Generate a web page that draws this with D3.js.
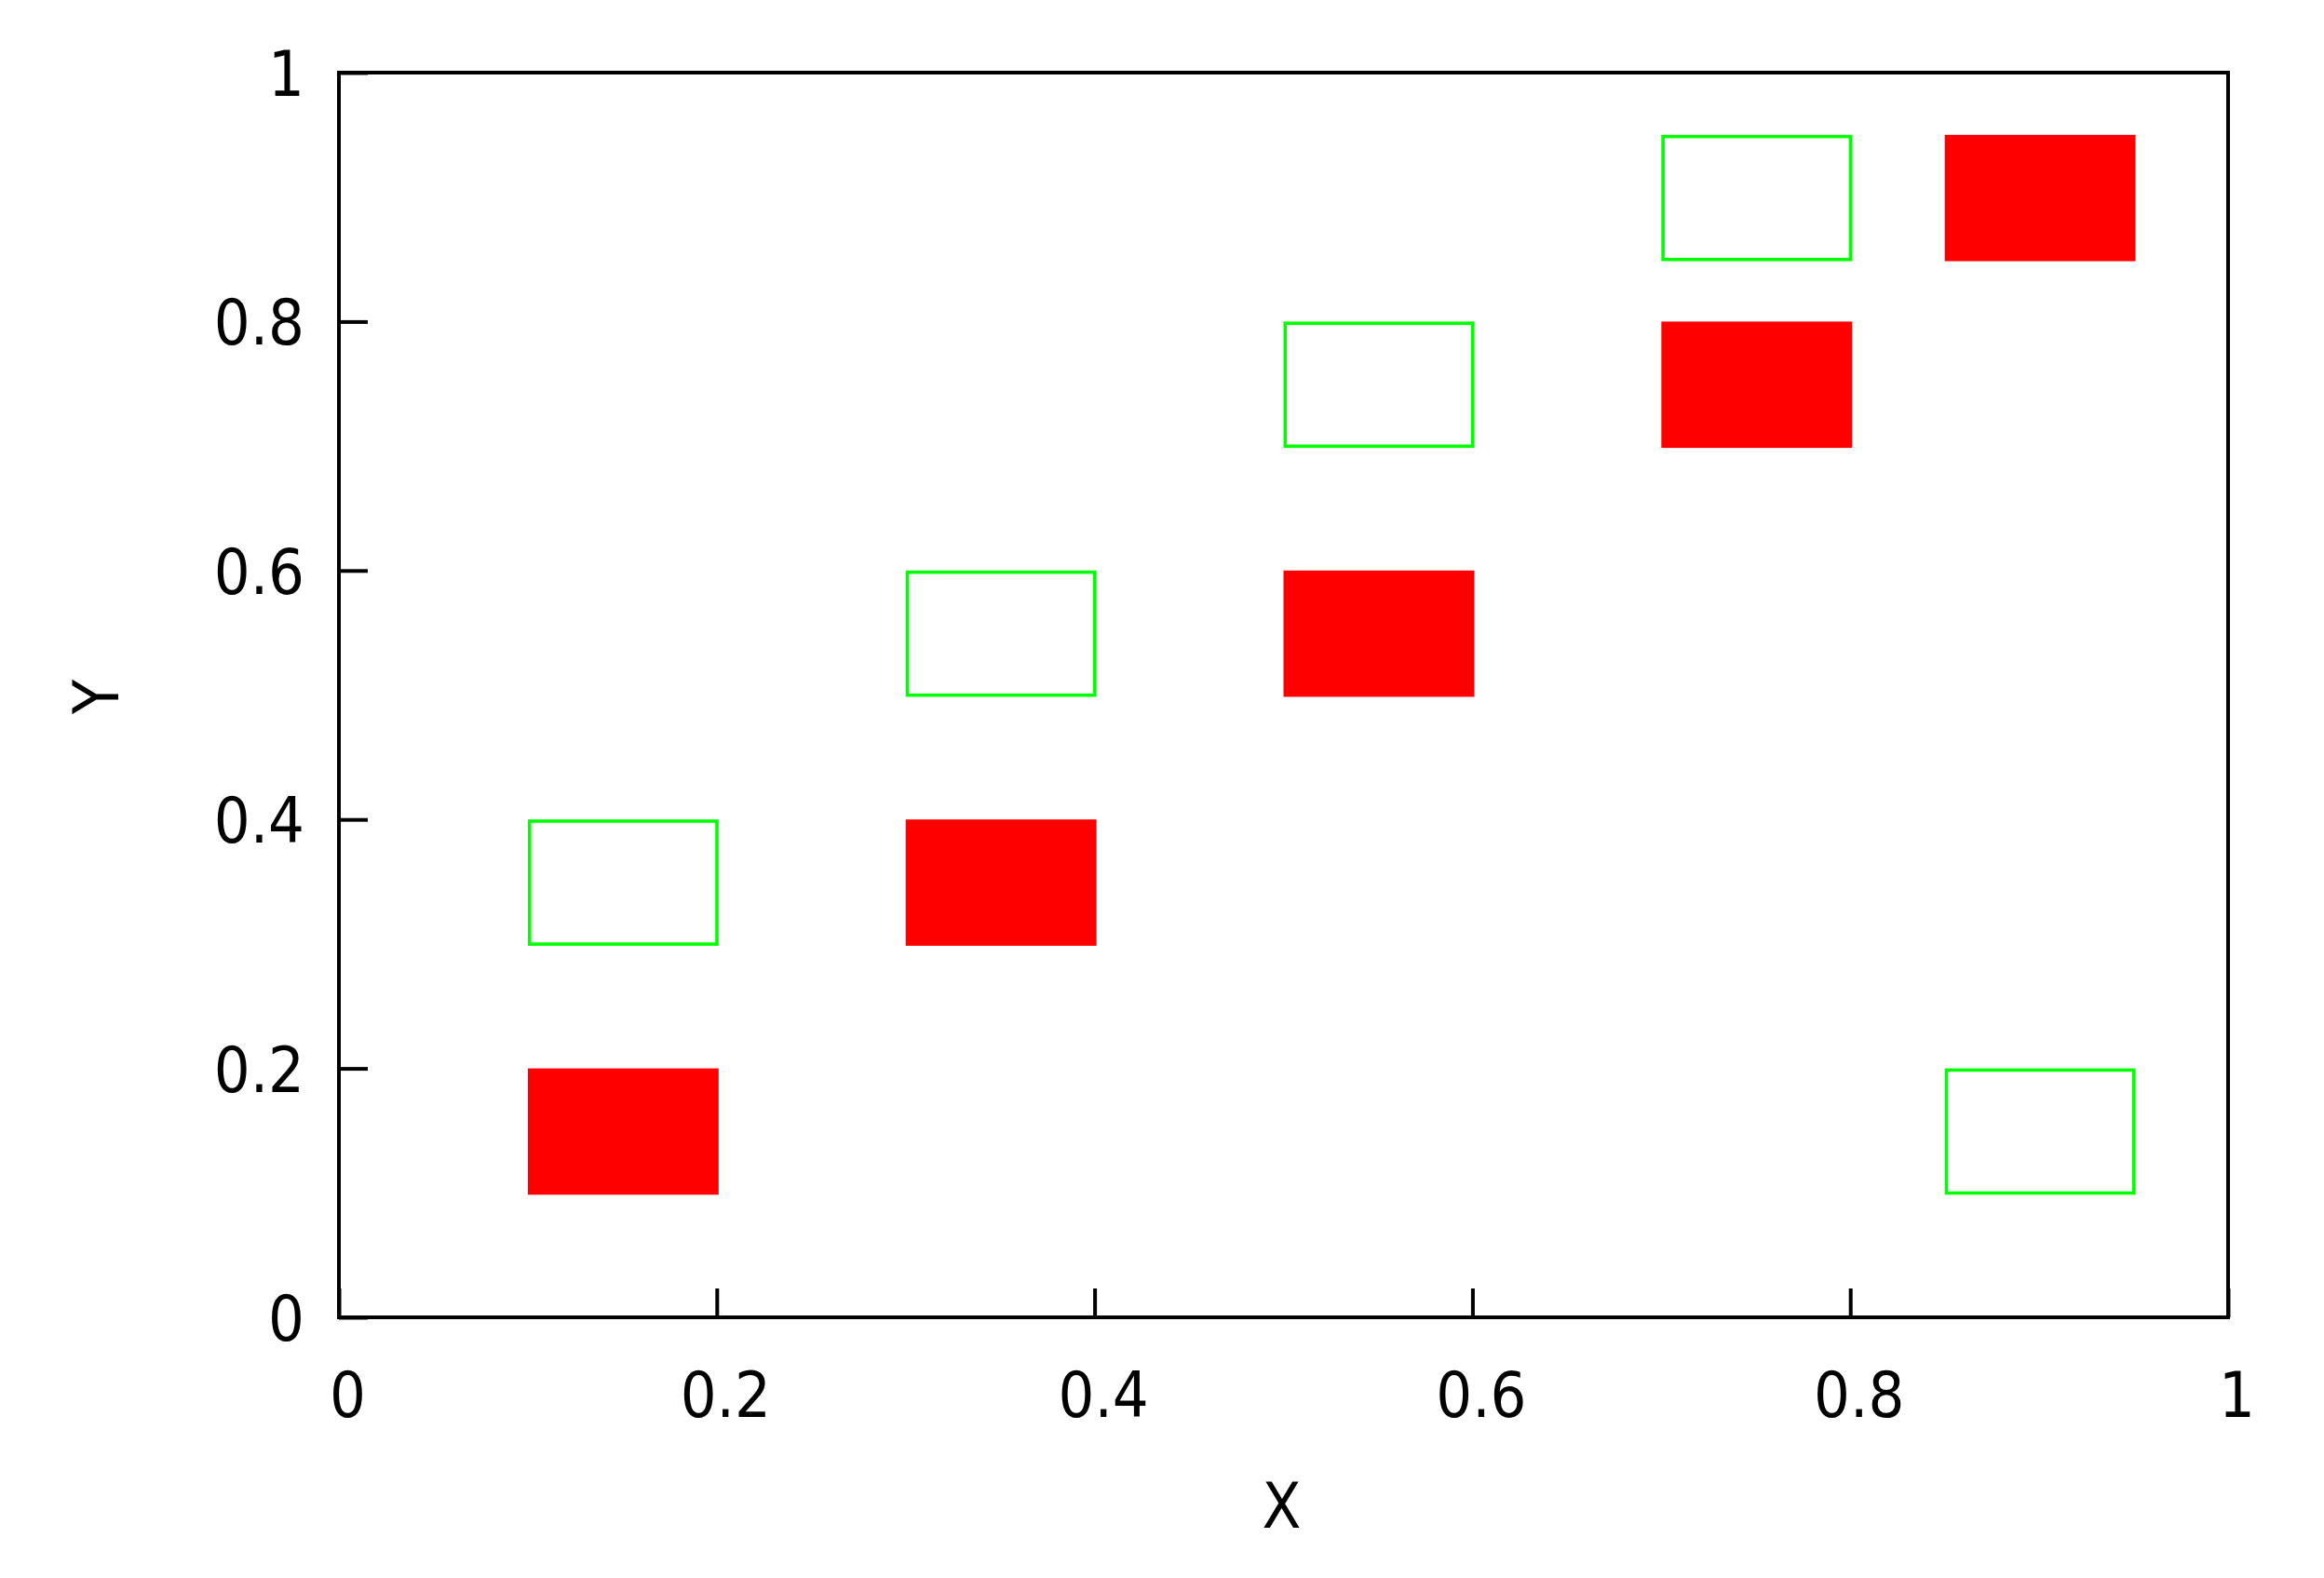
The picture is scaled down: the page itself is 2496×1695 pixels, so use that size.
<!DOCTYPE html>
<html>
<head>
<meta charset="utf-8">
<script src="https://cdn.jsdelivr.net/npm/d3@7"></script>
<style>
  html, body { margin: 0; padding: 0; background: #fff; }
  svg { display: block; }
</style>
</head>
<body>
<div id="chart"></div>
<script>
// Red filled boxes
const redX0 = [0.1, 0.3, 0.5, 0.7, 0.85]
const redX1 = [0.2, 0.4, 0.6, 0.8, 0.95]
const redY0 = [0.1, 0.3, 0.5, 0.7, 0.85]
const redY1 = [0.2, 0.4, 0.6, 0.8, 0.95]

// Green outlined boxes
const greenX0 = [0.1, 0.3, 0.5, 0.7, 0.85]
const greenX1 = [0.2, 0.4, 0.6, 0.8, 0.95]
const greenY0 = [0.3, 0.5, 0.7, 0.85, 0.1]
const greenY1 = [0.4, 0.6, 0.8, 0.95, 0.2]

// Ticks
const xTicks = [0, 0.2, 0.4, 0.6, 0.8, 1]
const xTickLabels = ['0', '0.2', '0.4', '0.6', '0.8', '1']
const yTicks = [0, 0.2, 0.4, 0.6, 0.8, 1]
const yTickLabels = ['0', '0.2', '0.4', '0.6', '0.8', '1']

const width = 2496
const height = 1695
const margin = { top: 78, right: 103, bottom: 280, left: 364 }
const font = '"DejaVu Sans Condensed", "DejaVu Sans", sans-serif'
const fontSize = 68
const lineW = 4

const svg = d3.select('#chart')
  .append('svg')
  .attr('width', width)
  .attr('height', height)

svg.append('rect')
  .attr('width', width)
  .attr('height', height)
  .attr('fill', '#fff')

const x = d3.scaleLinear()
  .domain([0, 1])
  .range([margin.left, width - margin.right])

const y = d3.scaleLinear()
  .domain([0, 1])
  .range([height - margin.bottom, margin.top])

const red = redX0.map((d, i) => ({ x0: d, x1: redX1[i], y0: redY0[i], y1: redY1[i] }))
const green = greenX0.map((d, i) => ({ x0: d, x1: greenX1[i], y0: greenY0[i], y1: greenY1[i] }))

// Filled rectangles
svg.append('g')
  .selectAll('rect')
  .data(red)
  .join('rect')
  .attr('x', d => x(d.x0))
  .attr('y', d => y(d.y1))
  .attr('width', d => x(d.x1) - x(d.x0) + 2)
  .attr('height', d => y(d.y0) - y(d.y1) + 2)
  .attr('fill', '#ff0000')

// Outlined rectangles (stroke drawn inside the box)
const sw = 3.6
svg.append('g')
  .selectAll('rect')
  .data(green)
  .join('rect')
  .attr('x', d => x(d.x0) + sw / 2)
  .attr('y', d => y(d.y1) + sw / 2)
  .attr('width', d => x(d.x1) - x(d.x0) - sw + 2)
  .attr('height', d => y(d.y0) - y(d.y1) - sw + 2)
  .attr('fill', 'none')
  .attr('stroke', '#00ff00')
  .attr('stroke-width', sw)

// Axes with inward ticks
const xAxis = svg.append('g')
  .attr('transform', `translate(0,${height - margin.bottom})`)
  .call(d3.axisBottom(x)
    .tickValues(xTicks)
    .tickFormat((d, i) => xTickLabels[i])
    .tickSizeInner(-31)
    .tickSizeOuter(0))

xAxis.select('.domain').remove()
xAxis.selectAll('line')
  .attr('stroke', '#000')
  .attr('stroke-width', lineW)
xAxis.selectAll('text')
  .attr('y', 107)
  .attr('dy', 0)
  .attr('dx', 9)
  .attr('fill', '#000')
  .attr('font-family', font)
  .attr('font-size', fontSize)

const yAxis = svg.append('g')
  .attr('transform', `translate(${margin.left},0)`)
  .call(d3.axisLeft(y)
    .tickValues(yTicks)
    .tickFormat((d, i) => yTickLabels[i])
    .tickSizeInner(-31)
    .tickSizeOuter(0))

yAxis.select('.domain').remove()
yAxis.selectAll('line')
  .attr('stroke', '#000')
  .attr('stroke-width', lineW)
yAxis.selectAll('text')
  .attr('x', -37)
  .attr('dy', '0.36em')
  .attr('fill', '#000')
  .attr('font-family', font)
  .attr('font-size', fontSize)

// Plot border
svg.append('rect')
  .attr('x', x(0))
  .attr('y', y(1))
  .attr('width', x(1) - x(0))
  .attr('height', y(0) - y(1))
  .attr('fill', 'none')
  .attr('stroke', '#000')
  .attr('stroke-width', lineW)

// Axis titles
svg.append('text')
  .attr('x', (x(0) + x(1)) / 2 - 2)
  .attr('y', 1617)
  .attr('dy', '0.36em')
  .attr('text-anchor', 'middle')
  .attr('font-family', font)
  .attr('font-size', fontSize)
  .text('X')

svg.append('text')
  .attr('transform', `translate(103,${(y(0) + y(1)) / 2 + 2}) rotate(-90)`)
  .attr('dy', '0.36em')
  .attr('text-anchor', 'middle')
  .attr('font-family', font)
  .attr('font-size', fontSize)
  .text('Y')
</script>
</body>
</html>
